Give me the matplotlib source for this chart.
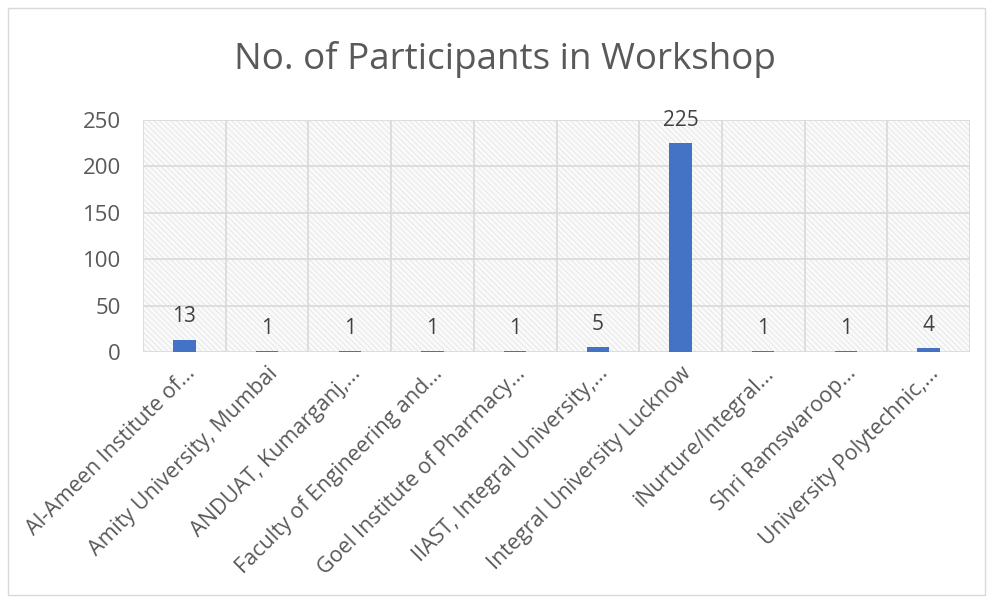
import matplotlib.pyplot as plt
import matplotlib.patches as mpatches

institutes = [
    "Al-Ameen Institute of...",
    "Amity University, Mumbai",
    "ANDUAT, Kumarganj,...",
    "Faculty of Engineering and...",
    "Goel Institute of Pharmacy...",
    "IIAST, Integral University,...",
    "Integral University Lucknow",
    "iNurture/Integral...",
    "Shri Ramswaroop...",
    "University Polytechnic,...",
]
participants = [13, 1, 1, 1, 1, 5, 225, 1, 1, 4]
yticks = [0, 50, 100, 150, 200, 250]

plt.rcParams["font.family"] = ["Open Sans", "DejaVu Sans"]
plt.rcParams["hatch.color"] = "#e2e2e2"
plt.rcParams["hatch.linewidth"] = 0.6

fig = plt.figure(figsize=(9.88, 5.99), dpi=100)
ax = fig.add_axes([143 / 988, 1 - 352 / 599, 827 / 988, 232 / 599])

# chart border
fig.patches.append(mpatches.Rectangle((8 / 988, 4 / 599), 977 / 988, 587 / 599,
                                      transform=fig.transFigure, fill=False,
                                      edgecolor="#d9d9d9", linewidth=1))

ax.set_facecolor("#fafafa")
bg = mpatches.Rectangle((0, 0), 1, 1, transform=ax.transAxes, facecolor="none",
                        hatch="\\\\\\\\\\\\", edgecolor="#e4e4e4", linewidth=0, zorder=0)
ax.add_patch(bg)

x = list(range(len(institutes)))
ax.bar(x, participants, width=0.27, color="#4472c4", zorder=3)

for xi, v in zip(x, participants):
    ax.annotate(str(v), (xi, v), xytext=(0, 9), textcoords="offset points",
                ha="center", va="bottom", fontsize=15, color="#404040")

ax.set_xlim(-0.5, len(institutes) - 0.5)
ax.set_ylim(0, 250)
ax.set_yticks(yticks)
ax.set_xticks(x)
ax.set_xticklabels(institutes, rotation=45, ha="right", rotation_mode="anchor",
                   fontsize=15.5, color="#595959")
ax.tick_params(axis="y", labelsize=16, labelcolor="#595959", length=0, pad=16)
ax.tick_params(axis="x", length=0, pad=8)

ax.set_xticks([i + 0.5 for i in range(-1, len(institutes))], minor=True)
ax.grid(axis="y", color="#d9d9d9", linewidth=1.2, zorder=1)
ax.grid(axis="x", which="minor", color="#d9d9d9", linewidth=1.2, zorder=1)
ax.tick_params(axis="x", which="minor", length=0)
for s in ax.spines.values():
    s.set_visible(False)
ax.set_axisbelow(True)

fig.text(505 / 988, 1 - 60 / 599, "No. of Participants in Workshop", ha="center",
         va="center", fontsize=26.5, color="#595959")

plt.savefig("out.png", dpi=100)
